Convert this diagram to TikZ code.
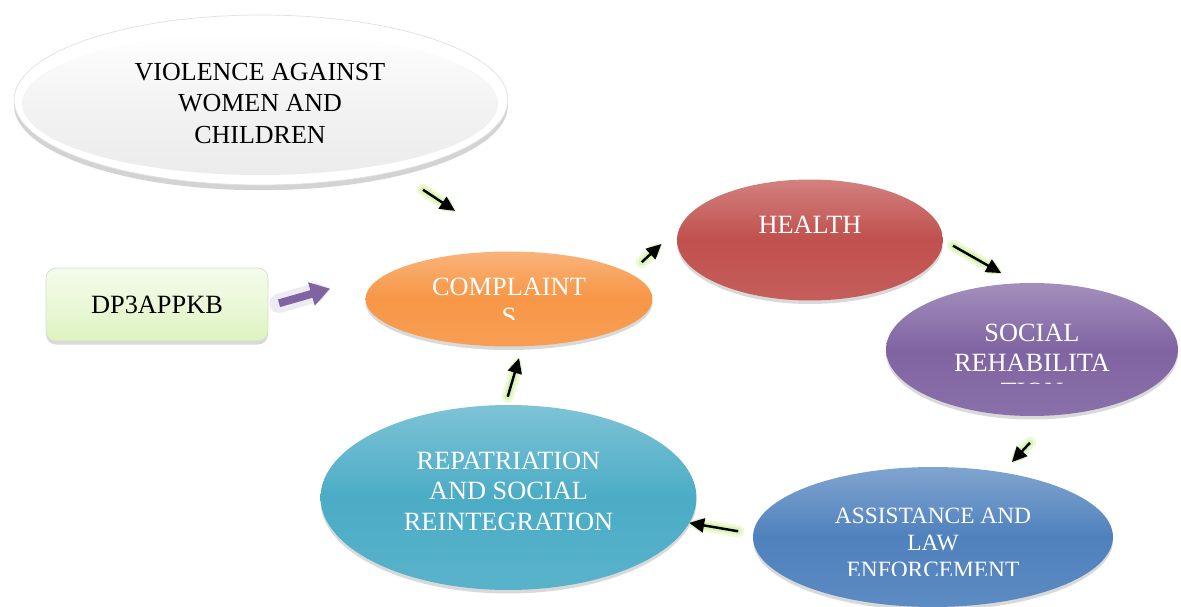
\documentclass[tikz,border=0pt]{standalone}
\usepackage{fontspec}
\setmainfont{Liberation Serif}
\usetikzlibrary{arrows.meta,shapes.geometric,shadows,calc}

\definecolor{corange}{HTML}{F79646}
\definecolor{cred}{HTML}{C0504D}
\definecolor{cpurple}{HTML}{8064A2}
\definecolor{cblue}{HTML}{4F81BD}
\definecolor{ccyan}{HTML}{4BACC6}
\definecolor{cgreen}{HTML}{DDF3BE}
\definecolor{cglow}{RGB}{200,238,140}
\definecolor{cgrey}{HTML}{F3F3F3}

\begin{document}
\begin{tikzpicture}[x=0.02cm,y=-0.02cm,
    blob/.style={ellipse, inner sep=0pt, outer sep=0pt, top color=#1!72!white, bottom color=#1!92!white, middle color=#1,
      drop shadow={opacity=0.3, shadow xshift=0pt, shadow yshift=-2pt}},
    lbl/.style={text=white, align=center, inner sep=0pt, font=\fontsize{15}{17.4}\selectfont},
    arr/.style={-{Triangle[length=8.5pt,width=8pt]}, line width=1.4pt,
      preaction={draw=cglow, line width=7pt, line cap=round, opacity=0.3, -{Triangle[length=9pt,width=9pt,line width=5pt,round]}},
      preaction={draw=cglow, line width=4pt, line cap=round, opacity=0.5, -{Triangle[length=8.5pt,width=8pt,line width=3pt,round]}}},
    fatarr/.style={-{Triangle[length=11pt,width=13pt]}, draw=cpurple, line width=4.5pt,
      preaction={draw=cpurple!45, line width=11pt, line cap=round, opacity=0.3, -{Triangle[length=11pt,width=13pt,line width=5pt,round]}}}]
    \useasboundingbox (0,0) rectangle (1181,607);

    % top ellipse
    \node[ellipse, minimum width=9.88cm, minimum height=3.4cm, inner sep=0pt, outer sep=0pt, fill=white, draw=black!12,
      drop shadow={opacity=0.35, shadow xshift=0pt, shadow yshift=-3pt}] (violence) at (261,100) {};
    \node[ellipse, minimum width=9.52cm, minimum height=2.86cm, inner sep=0pt, top color=white, bottom color=cgrey!97!black, middle color=cgrey,
      align=center, font=\fontsize{14.8}{17.7}\selectfont] (violenceinner) at (260,103.5) {VIOLENCE AGAINST\\WOMEN AND\\CHILDREN};

    \node[rectangle, rounded corners=0.2cm, minimum width=4.44cm, minimum height=1.46cm, outer sep=0pt, draw=cgreen!70!black!40,
      top color=cgreen!30!white, bottom color=cgreen, middle color=cgreen!60!white,
      drop shadow={opacity=0.3, shadow xshift=0pt, shadow yshift=-2pt}, font=\fontsize{15}{17.4}\selectfont] (dp) at (157,304.5) {DP3APPKB};

    % cycle
    \node[blob=corange, minimum width=5.74cm, minimum height=1.9cm] (comp) at (509,299) {};
    \node[blob=cred, minimum width=5.32cm, minimum height=2.42cm] (health) at (810,240) {};
    \node[blob=cpurple, minimum width=5.84cm, minimum height=2.66cm] (social) at (1032,349.5) {};
    \node[blob=cblue, minimum width=7.2cm, minimum height=2.8cm] (assist) at (933,537) {};
    \node[blob=ccyan, minimum width=7.52cm, minimum height=3.7cm] (repat) at (508.5,497.5) {};

    \begin{scope}
      \clip ($(comp)+(-143,-48)$) rectangle ($(comp)+(143,20.5)$);
      \node[lbl, font=\fontsize{15}{17.3}\selectfont] (comptext) at ($(comp)+(0,3)$) {COMPLAINT\\S};
    \end{scope}
    \node[lbl] (healthtext) at ($(health)+(0,-15)$) {HEALTH};
    \begin{scope}
      \clip ($(social)+(-146,-67)$) rectangle ($(social)+(146,34)$);
      \node[lbl, font=\fontsize{15}{16.7}\selectfont] (socialtext) at ($(social)+(0,13)$) {SOCIAL\\REHABILITA\\TION};
    \end{scope}
    \begin{scope}
      \clip ($(assist)+(-180,-70)$) rectangle ($(assist)+(180,39)$);
      \node[lbl, font=\fontsize{13.3}{15.3}\selectfont] (assisttext) at ($(assist)+(0,6)$) {ASSISTANCE AND\\LAW\\ENFORCEMENT};
    \end{scope}
    \node[lbl] (repattext) at ($(repat)+(0,-6.5)$) {REPATRIATION\\AND SOCIAL\\REINTEGRATION};

    % arrows
    \draw[fatarr, shorten <=0.23cm, shorten >=2.24cm] (dp.-1) -- (comp.150);
    \draw[arr, shorten <=0.668cm, shorten >=1.476cm] (violence.-28.7) -- (comp.81);
    \draw[arr, shorten <=0.33cm, shorten >=0.52cm] (comp.12.75) -- (health.174.6);
    \draw[arr, shorten <=0.23cm, shorten >=0.413cm] (health.-0.7) -- (social.101.9);
    \draw[arr, shorten <=0.76cm, shorten >=0.284cm] (social.-70.4) -- (assist.43);
    \draw[arr, shorten <=0.306cm] (assist.179.2) -- (repat.-8.4);
    \draw[arr, shorten <=0.174cm, shorten >=0.25cm] (repat.92.7) -- (comp.-74.7);
\end{tikzpicture}
\end{document}
